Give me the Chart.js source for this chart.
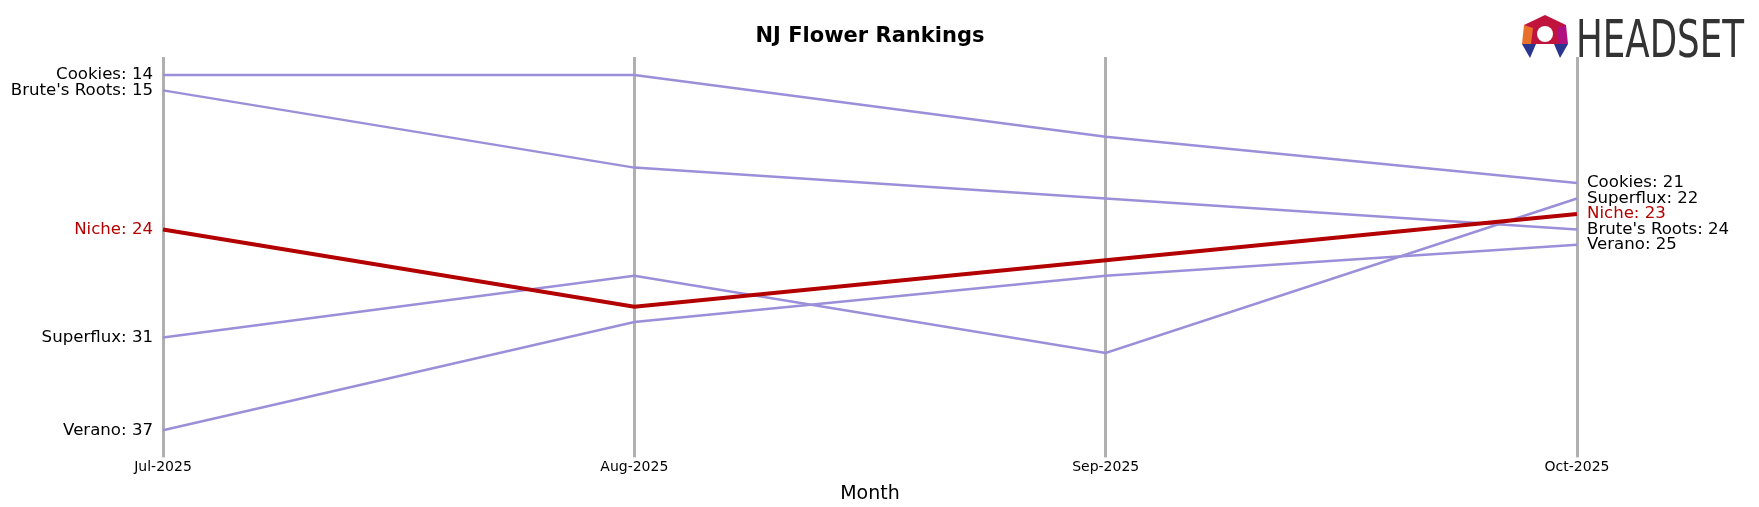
<!DOCTYPE html>
<html><head><script src="https://cdn.jsdelivr.net/npm/chart.js@4"></script>
<style>body{margin:0;background:#fff}#w{width:1759px;height:507px}</style></head>
<body><div id="w"><canvas id="c"></canvas></div>
<script>
const months=["Jul-2025","Aug-2025","Sep-2025","Oct-2025"];
const brands=["Cookies","Brute's Roots","Niche","Superflux","Verano"];
const cookies=[14,14,18,21];
const brutes=[15,20,22,24];
const niche=[24,29,26,23];
const superflux=[31,27,32,22];
const verano=[37,30,27,25];
const series=[cookies,brutes,niche,superflux,verano];
const highlight="Niche";
const ds=brands.map((b,i)=>({label:b,data:series[i],borderColor:b===highlight?'#b30000':'#9b8fd9',borderWidth:b===highlight?4:2.5,pointRadius:0,tension:0,order:b===highlight?0:1}));
const labelPlugin={id:'lbl',afterDatasetsDraw(ch){
 const c=ch.ctx,x=ch.scales.x,y=ch.scales.y;
 c.save();c.font='16.6px "DejaVu Sans"';c.textBaseline='middle';
 brands.forEach((b,i)=>{const d=series[i];c.fillStyle=b===highlight?'#b30000':'#000';
  c.textAlign='right';c.fillText(b+': '+d[0],x.getPixelForValue(0)-10,y.getPixelForValue(d[0]));
  c.textAlign='left';c.fillText(b+': '+d[3],x.getPixelForValue(3)+10,y.getPixelForValue(d[3]));});
 c.textAlign='center';c.fillStyle='#000';c.font='bold 21px "DejaVu Sans"';c.fillText('NJ Flower Rankings',870,37);
 c.font='52px "DejaVu Sans Condensed"';c.fillStyle='#333';c.textAlign='left';c.textBaseline='alphabetic';
 const w=c.measureText('HEADSET').width;c.save();c.translate(1576,57);c.scale(168/w,1);c.fillText('HEADSET',0,0);c.restore();
 c.fillStyle='#c0143c';c.beginPath();c.moveTo(1545,15);c.lineTo(1566,25);c.lineTo(1562,44);c.lineTo(1529,44);c.lineTo(1524,25);c.closePath();c.fill();
 c.fillStyle='#e8702a';c.beginPath();c.moveTo(1524,25);c.lineTo(1533,28);c.lineTo(1531,44);c.lineTo(1522,44);c.fill();
 c.fillStyle='#b01080';c.beginPath();c.moveTo(1566,25);c.lineTo(1557,28);c.lineTo(1559,44);c.lineTo(1568,44);c.fill();
 c.fillStyle='#2a3590';c.beginPath();c.moveTo(1522,44);c.lineTo(1536,44);c.lineTo(1530,58);c.fill();
 c.beginPath();c.moveTo(1554,44);c.lineTo(1568,44);c.lineTo(1560,58);c.fill();
 c.fillStyle='#fff';c.beginPath();c.arc(1545,34,8,0,7);c.fill();
 c.restore();}};
new Chart(document.getElementById('c'),{type:'line',data:{labels:months,datasets:ds},
options:{responsive:true,maintainAspectRatio:false,animation:false,
 layout:{padding:{left:163,right:182,top:57,bottom:0}},
 plugins:{legend:{display:false},title:{display:false},tooltip:{enabled:false}},
 scales:{x:{offset:false,grid:{color:'#b0b0b0',lineWidth:3,drawTicks:true,tickLength:6},border:{display:false},
   ticks:{color:'#000',font:{size:14,family:'DejaVu Sans'},maxRotation:0,padding:2},
   title:{display:true,text:'Month',color:'#000',font:{size:19,family:'DejaVu Sans'},padding:{top:4,bottom:2}}},
  y:{display:false,reverse:true,min:12.84,max:38.37}}}
,plugins:[labelPlugin]});
</script></body></html>
